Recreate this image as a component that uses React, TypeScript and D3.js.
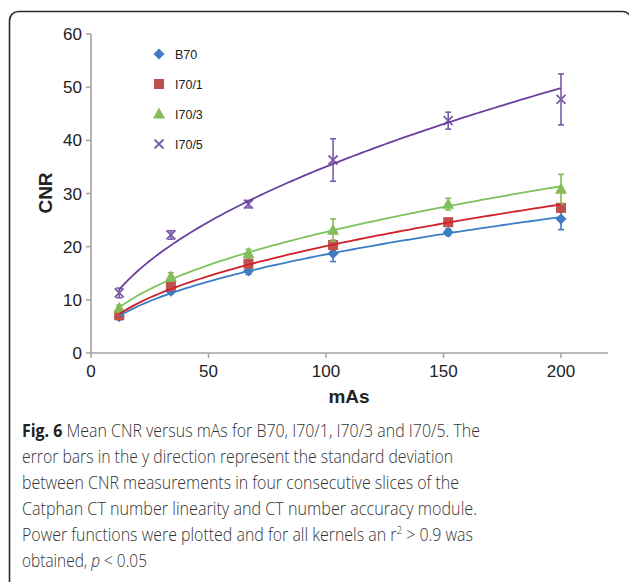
import * as d3 from "d3";

const mAs = [12, 34, 67, 103, 152, 200];
const kernels = ["B70", "I70/1", "I70/3", "I70/5"];
const cnrB70 = [6.8, 11.6, 15.4, 18.7, 22.7, 25.2];
const cnrI701 = [7.1, 12.6, 16.8, 20.3, 24.6, 27.3];
const cnrI703 = [8.4, 14.3, 18.7, 23.1, 28.0, 30.8];
const cnrI705 = [11.3, 22.2, 28.0, 36.3, 43.7, 47.7];
const sdB70 = [0.5, 0.5, 0.6, 1.5, 0.6, 2.0];
const sdI701 = [0.5, 0.8, 0.8, 0.9, 0.7, 0.8];
const sdI703 = [0.6, 0.8, 0.8, 2.1, 1.1, 2.8];
const sdI705 = [0.9, 0.8, 0.7, 4.0, 1.6, 4.8];
const xTicks = [0, 50, 100, 150, 200];
const yTicks = [0, 10, 20, 30, 40, 50, 60];

const captionLines = [
  "Mean CNR versus mAs for B70, I70/1, I70/3 and I70/5. The",
  "error bars in the y direction represent the standard deviation",
  "between CNR measurements in four consecutive slices of the",
  "Catphan CT number linearity and CT number accuracy module.",
  "Power functions were plotted and for all kernels an r",
  "obtained, ",
];

const series = [
  { name: kernels[0], y: cnrB70, sd: sdB70, marker: "#3f7cc1", line: "#3a7ec6", shape: "diamond" },
  { name: kernels[1], y: cnrI701, sd: sdI701, marker: "#c0504d", line: "#d0202a", shape: "square" },
  { name: kernels[2], y: cnrI703, sd: sdI703, marker: "#86bb5a", line: "#7cc35e", shape: "triangle" },
  { name: kernels[3], y: cnrI705, sd: sdI705, marker: "#7b5ba6", line: "#6a3e9c", shape: "cross" },
];

// power trendline as in Excel: least squares on ln(x), ln(y)
function powerFit(xs: number[], ys: number[]) {
  const lx = xs.map(Math.log);
  const ly = ys.map(Math.log);
  const mx = d3.mean(lx)!;
  const my = d3.mean(ly)!;
  const b = d3.sum(lx, (v, i) => (v - mx) * (ly[i] - my)) / d3.sum(lx, (v) => (v - mx) ** 2);
  const a = Math.exp(my - b * mx);
  return (x: number) => a * Math.pow(x, b);
}

function Marker({ shape, color, x, y }: { shape: string; color: string; x: number; y: number }) {
  if (shape === "diamond")
    return <path d={`M${x},${y - 5.5}L${x + 5.5},${y}L${x},${y + 5.5}L${x - 5.5},${y}Z`} fill={color} />;
  if (shape === "square") return <rect x={x - 5} y={y - 5} width={10} height={10} fill={color} />;
  if (shape === "triangle")
    return <path d={`M${x},${y - 6.5}L${x + 6},${y + 4.5}L${x - 6},${y + 4.5}Z`} fill={color} />;
  return (
    <path
      d={`M${x - 4.5},${y - 4.5}L${x + 4.5},${y + 4.5}M${x - 4.5},${y + 4.5}L${x + 4.5},${y - 4.5}`}
      stroke={color}
      strokeWidth={1.8}
    />
  );
}

export default function App() {
  const width = 629;
  const height = 582;
  const x = d3.scaleLinear().domain([0, 220]).range([91, 608]);
  const y = d3.scaleLinear().domain([0, 60]).range([353, 34]);
  const axisColor = "#a3a3a3";
  const font = "'Liberation Sans', Arial, sans-serif";
  const capFont = "'Open Sans', 'Noto Sans', sans-serif";
  const samples = d3.range(0, 101).map((i) => mAs[0] + ((mAs[mAs.length - 1] - mAs[0]) * i) / 100);

  return (
    <svg width={width} height={height} style={{ position: "absolute", left: 0, top: 0, background: "#fff" }}>
      <rect x={9.5} y={11.5} width={622} height={578} rx={9} fill="none" stroke="#2a2a2a" strokeWidth={1.6} />

      {/* axes */}
      <line x1={x(0)} x2={x(220)} y1={y(0)} y2={y(0)} stroke={axisColor} strokeWidth={1.6} />
      <line x1={x(0)} x2={x(0)} y1={y(0)} y2={y(60)} stroke={axisColor} strokeWidth={1.6} />
      {yTicks.map((t) => (
        <g key={t}>
          <line x1={x(0) - 5} x2={x(0)} y1={y(t)} y2={y(t)} stroke={axisColor} strokeWidth={1.5} />
          <text x={x(0) - 9} y={y(t)} dy="0.36em" textAnchor="end" fontFamily={font} fontSize={17} fill="#222">
            {t}
          </text>
        </g>
      ))}
      {xTicks.map((t) => (
        <g key={t}>
          <line x1={x(t)} x2={x(t)} y1={y(0)} y2={y(0) + 5} stroke={axisColor} strokeWidth={1.5} />
          <text x={x(t)} y={y(0) + 24} textAnchor="middle" fontFamily={font} fontSize={17} fill="#222">
            {t}
          </text>
        </g>
      ))}
      <text
        transform={`translate(52,193) rotate(-90)`}
        textAnchor="middle"
        fontFamily={font}
        fontSize={19}
        fontWeight="bold"
        fill="#222"
      >
        CNR
      </text>
      <text x={349} y={403} textAnchor="middle" fontFamily={font} fontSize={19} fontWeight="bold" fill="#222">
        mAs
      </text>

      {/* error bars and markers */}
      {series.map((s) => (
        <g key={s.name}>
          {mAs.map((m, i) => {
            const cx = x(m);
            const top = y(s.y[i] + s.sd[i]);
            const bot = y(s.y[i] - s.sd[i]);
            return (
              <g key={i} stroke={s.marker} strokeWidth={1.6}>
                <line x1={cx} x2={cx} y1={top} y2={bot} />
                <line x1={cx - 3} x2={cx + 3} y1={top} y2={top} />
                <line x1={cx - 3} x2={cx + 3} y1={bot} y2={bot} />
              </g>
            );
          })}
          {mAs.map((m, i) => (
            <Marker key={i} shape={s.shape} color={s.marker} x={x(m)} y={y(s.y[i])} />
          ))}
        </g>
      ))}

      {/* power trendlines */}
      {series.map((s) => {
        const f = powerFit(mAs, s.y);
        const path = d3
          .line<number>()
          .x((v) => x(v))
          .y((v) => y(f(v)))(samples);
        return <path key={s.name} d={path ?? ""} fill="none" stroke={s.line} strokeWidth={1.8} />;
      })}

      {/* legend */}
      {series.map((s, i) => (
        <g key={s.name}>
          <Marker shape={s.shape} color={s.marker} x={159} y={54 + i * 30} />
          <text x={175} y={54 + i * 30} dy="0.36em" fontFamily={font} fontSize={12.5} fill="#222">
            {s.name}
          </text>
        </g>
      ))}

      {/* caption */}
      <g fontFamily={capFont} fontSize={17.5} fontWeight={300} fill="#333">
        <text x={22} y={437} textLength={458} lengthAdjust="spacingAndGlyphs">
          <tspan fontWeight="bold" fill="#222">Fig. 6</tspan> {captionLines[0]}
        </text>
        <text x={22} y={463} textLength={431} lengthAdjust="spacingAndGlyphs">
          {captionLines[1]}
        </text>
        <text x={22} y={489} textLength={437} lengthAdjust="spacingAndGlyphs">
          {captionLines[2]}
        </text>
        <text x={22} y={515} textLength={455} lengthAdjust="spacingAndGlyphs">
          {captionLines[3]}
        </text>
        <text x={22} y={541} textLength={451} lengthAdjust="spacingAndGlyphs">
          {captionLines[4]}
          <tspan dy={-7} fontSize={11}>2</tspan>
          <tspan dy={7}> &gt; 0.9 was</tspan>
        </text>
        <text x={22} y={567} textLength={125} lengthAdjust="spacingAndGlyphs">
          {captionLines[5]}
          <tspan fontStyle="italic">p</tspan> &lt; 0.05
        </text>
      </g>
    </svg>
  );
}
